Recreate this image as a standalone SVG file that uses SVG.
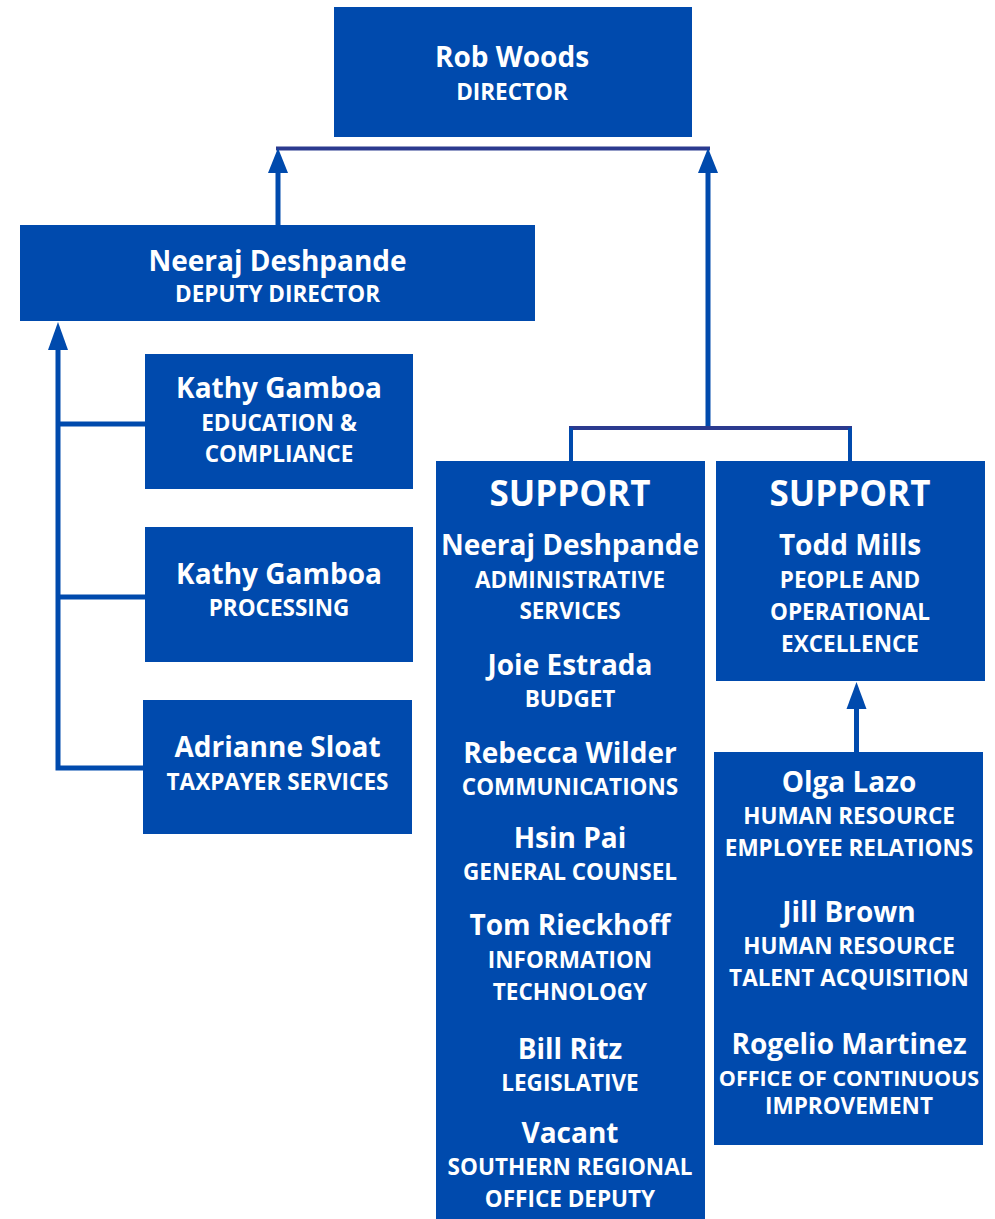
<svg xmlns="http://www.w3.org/2000/svg" width="995" height="1219" viewBox="0 0 995 1219">
<style>
.box{fill:#004AAD}
.t{font-family:"Open Sans","Liberation Sans",sans-serif;font-weight:700;fill:#fff;text-anchor:middle}
.n{font-size:28px}
.s{font-size:22.5px}
.h{font-size:35px}
.v{stroke:#004AAD;stroke-width:5;fill:none}
.bar{stroke:#2B3A8F;stroke-width:4;fill:none}
.ah{fill:#004AAD}
</style>
<rect width="995" height="1219" fill="#fff"/>
<g id="connectors">
<line class="bar" x1="276" y1="148.5" x2="710" y2="148.5"/>
<line class="v" x1="278" y1="225" x2="278" y2="170"/>
<polygon class="ah" points="278,148 268,173 288,173"/>
<line class="v" x1="708" y1="430" x2="708" y2="170"/>
<polygon class="ah" points="708,148 698,173 718,173"/>
<line class="bar" x1="569" y1="428" x2="852" y2="428"/>
<line class="v" x1="571" y1="428" x2="571" y2="461" style="stroke-width:4"/>
<line class="v" x1="850" y1="428" x2="850" y2="461" style="stroke-width:4"/>
<polyline class="v" points="58,345 58,768 145,768"/>
<line class="v" x1="58" y1="424" x2="146" y2="424"/>
<line class="v" x1="58" y1="597" x2="146" y2="597"/>
<polygon class="ah" points="58,322 48,350 68,350"/>
<line class="v" x1="856.5" y1="752" x2="856.5" y2="705"/>
<polygon class="ah" points="856.5,682 846.5,709 866.5,709"/>
</g>
<g id="director">
<rect class="box" x="334" y="7" width="358" height="130"/>
<text class="t n" x="512" y="67">Rob Woods</text>
<text class="t s" x="512" y="100">DIRECTOR</text>
</g>
<g id="deputy">
<rect class="box" x="20" y="225" width="515" height="96"/>
<text class="t n" x="277.5" y="271">Neeraj Deshpande</text>
<text class="t s" x="277.5" y="302">DEPUTY DIRECTOR</text>
</g>
<g id="education">
<rect class="box" x="145" y="354" width="268" height="135"/>
<text class="t n" x="279" y="398">Kathy Gamboa</text>
<text class="t s" x="279" y="431">EDUCATION &amp;</text>
<text class="t s" x="279" y="462">COMPLIANCE</text>
</g>
<g id="processing">
<rect class="box" x="145" y="527" width="268" height="135"/>
<text class="t n" x="279" y="584">Kathy Gamboa</text>
<text class="t s" x="279" y="616">PROCESSING</text>
</g>
<g id="taxpayer">
<rect class="box" x="143" y="700" width="269" height="134"/>
<text class="t n" x="277.5" y="757">Adrianne Sloat</text>
<text class="t s" x="277.5" y="790">TAXPAYER SERVICES</text>
</g>
<g id="support-left">
<rect class="box" x="436" y="461" width="269" height="758"/>
<text class="t h" x="570" y="506">SUPPORT</text>
<text class="t n" x="570" y="555">Neeraj Deshpande</text>
<text class="t s" x="570" y="588">ADMINISTRATIVE</text>
<text class="t s" x="570" y="619">SERVICES</text>
<text class="t n" x="570" y="675">Joie Estrada</text>
<text class="t s" x="570" y="707">BUDGET</text>
<text class="t n" x="570" y="763">Rebecca Wilder</text>
<text class="t s" x="570" y="795">COMMUNICATIONS</text>
<text class="t n" x="570" y="848">Hsin Pai</text>
<text class="t s" x="570" y="880">GENERAL COUNSEL</text>
<text class="t n" x="570" y="935">Tom Rieckhoff</text>
<text class="t s" x="570" y="968">INFORMATION</text>
<text class="t s" x="570" y="1000">TECHNOLOGY</text>
<text class="t n" x="570" y="1059">Bill Ritz</text>
<text class="t s" x="570" y="1091">LEGISLATIVE</text>
<text class="t n" x="570" y="1143">Vacant</text>
<text class="t s" x="570" y="1175">SOUTHERN REGIONAL</text>
<text class="t s" x="570" y="1207">OFFICE DEPUTY</text>
</g>
<g id="support-right">
<rect class="box" x="716" y="461" width="269" height="220"/>
<text class="t h" x="850" y="506">SUPPORT</text>
<text class="t n" x="850" y="555">Todd Mills</text>
<text class="t s" x="850" y="588">PEOPLE AND</text>
<text class="t s" x="850" y="620">OPERATIONAL</text>
<text class="t s" x="850" y="652">EXCELLENCE</text>
</g>
<g id="hr-group">
<rect class="box" x="714" y="752" width="269" height="393"/>
<text class="t n" x="849" y="792">Olga Lazo</text>
<text class="t s" x="849" y="824">HUMAN RESOURCE</text>
<text class="t s" x="849" y="856">EMPLOYEE RELATIONS</text>
<text class="t n" x="849" y="922">Jill Brown</text>
<text class="t s" x="849" y="954">HUMAN RESOURCE</text>
<text class="t s" x="849" y="986">TALENT ACQUISITION</text>
<text class="t n" x="849" y="1054">Rogelio Martinez</text>
<text class="t s" x="849" y="1086" style="font-size:21.5px">OFFICE OF CONTINUOUS</text>
<text class="t s" x="849" y="1114">IMPROVEMENT</text>
</g>
</svg>
